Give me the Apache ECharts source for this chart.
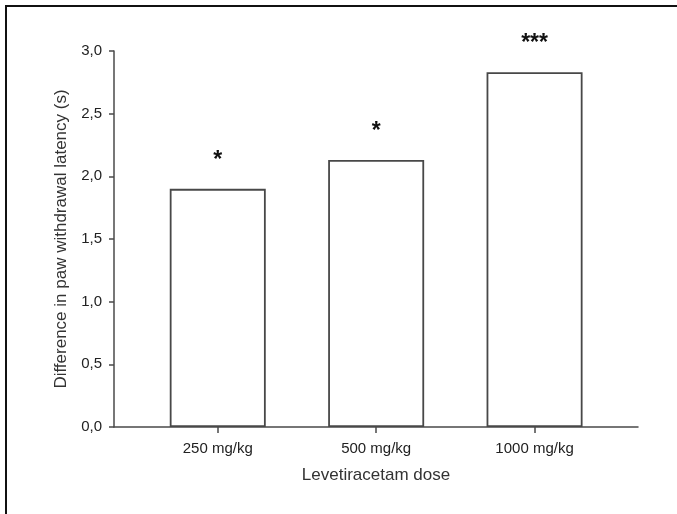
<!DOCTYPE html>
<html>
<head>
  <meta charset="UTF-8">
  <title>Levetiracetam dose</title>
  <script src="https://cdn.jsdelivr.net/npm/echarts@6/dist/echarts.min.js"></script>
  <style>
    html, body { margin: 0; padding: 0; background: #fff; }
    #main { position: absolute; left: 0; top: 0; width: 677px; height: 514px; }
    #frame {
      position: absolute; left: 5px; top: 5px; width: 700px; height: 540px;
      border-left: 2.5px solid #111; border-top: 2.5px solid #111;
      pointer-events: none;
    }
  </style>
</head>
<body>
<div id="main"></div>
<div id="frame"></div>

<script type="text/javascript">
  // 数据
  var doses = ['250 mg/kg', '500 mg/kg', '1000 mg/kg'];
  var positions = [1, 2, 3];
  var latency = [1.90, 2.13, 2.83];
  var stars = ['*', '*', '***'];

  var myChart = echarts.init(document.getElementById('main'));
  var font = 'Liberation Sans, Arial, sans-serif';

  var option = {
    backgroundColor: '#fff',
    animation: false,
    grid: {
      left: 114,
      right: 39,
      top: 51,
      bottom: 87
    },
    xAxis: {
      type: 'value',
      min: 0.345,
      max: 3.653,
      name: 'Levetiracetam dose',
      nameLocation: 'middle',
      nameGap: 40,
      nameTextStyle: { fontFamily: font, fontSize: 17, color: '#333' },
      splitLine: { show: false },
      axisLine: { show: true, lineStyle: { color: '#4a4a4a', width: 1.5 } },
      axisTick: {
        show: true,
        length: 6,
        customValues: positions,
        lineStyle: { color: '#4a4a4a', width: 1.5 }
      },
      axisLabel: {
        customValues: positions,
        margin: 14,
        fontFamily: font,
        fontSize: 15,
        color: '#222',
        formatter: function (v) {
          return doses[positions.indexOf(v)];
        }
      }
    },
    yAxis: {
      type: 'value',
      min: 0,
      max: 3,
      interval: 0.5,
      name: 'Difference in paw withdrawal latency (s)',
      nameLocation: 'middle',
      nameGap: 41,
      nameTextStyle: { fontFamily: font, fontSize: 17, color: '#333' },
      splitLine: { show: false },
      axisLine: { show: true, lineStyle: { color: '#4a4a4a', width: 1.5 } },
      axisTick: { show: true, length: 5, lineStyle: { color: '#4a4a4a', width: 1.5 } },
      axisLabel: {
        margin: 12,
        fontFamily: font,
        fontSize: 15,
        color: '#222',
        formatter: function (v) {
          return v.toFixed(1).replace('.', ',');
        }
      }
    },
    series: [
      {
        type: 'bar',
        barWidth: 96,
        data: positions.map(function (p, i) {
          return [p, latency[i]];
        }),
        itemStyle: {
          color: '#fff',
          borderColor: '#484848',
          borderWidth: 1.8
        },
        label: {
          show: true,
          position: 'top',
          distance: 17,
          fontFamily: font,
          fontSize: 23,
          fontWeight: 'bold',
          color: '#111',
          formatter: function (p) {
            return stars[p.dataIndex];
          }
        }
      }
    ]
  };
  myChart.setOption(option);
</script>
</body>
</html>
